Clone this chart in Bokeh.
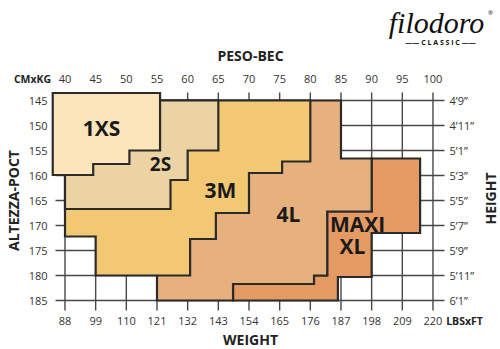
import math
from bokeh.plotting import figure
from bokeh.models import Range1d, ColumnDataSource
from bokeh.core.properties import value
from bokeh.embed import file_html
from bokeh.resources import INLINE

# ---------------- data ----------------
kg_ticks = [40, 45, 50, 55, 60, 65, 70, 75, 80, 85, 90, 95, 100]
kg_labels = [str(k) for k in kg_ticks]
lbs_labels = ["88", "99", "110", "121", "132", "143", "154", "165", "176", "187", "198", "209", "220"]
cm_ticks = [145, 150, 155, 160, 165, 170, 175, 180, 185]
cm_labels = [str(c) for c in cm_ticks]
ft_labels = ["4\u20199\u201d", "4\u201911\u201d", "5\u20191\u201d", "5\u20193\u201d", "5\u20195\u201d",
             "5\u20197\u201d", "5\u20199\u201d", "5\u201911\u201d", "6\u20191\u201d"]

sizes = ["MAXI XL", "4L", "3M", "2S", "1XS"]
# size regions (weight kg, height cm), drawn back to front
maxi_kg = [90, 97.9, 97.9, 90, 90, 84.5, 84.5, 67.4, 67.4, 80.6, 80.6, 82.75, 82.75, 90]
maxi_cm = [156.6, 156.6, 171.5, 171.5, 180.3, 180.3, 185, 185, 181.7, 181.7, 180, 180, 167.2, 167.2]
l4_kg = [55, 85, 85, 90, 90, 82.75, 82.75, 80.6, 80.6, 67.4, 67.4, 55]
l4_cm = [145, 145, 156.6, 156.6, 167.2, 167.2, 180, 180, 181.7, 181.7, 185, 185]
m3_kg = [40, 80, 80, 75.4, 75.4, 70, 70, 64.6, 64.6, 60.4, 60.4, 45, 45, 40]
m3_cm = [145, 145, 157.2, 157.2, 159.5, 159.5, 167.5, 167.5, 172.7, 172.7, 180, 180, 172.2, 172.2]
s2_kg = [40, 65, 65, 60, 60, 57.2, 57.2, 40]
s2_cm = [145, 145, 155, 155, 160.9, 160.9, 166.7, 166.7]
xs1_kg = [38, 55.5, 55.5, 50.5, 50.5, 44.6, 44.6, 38]
xs1_cm = [143.5, 143.5, 155, 155, 157.7, 157.7, 159.9, 159.9]

colors = ["#E59A64", "#E6B17C", "#F2C873", "#EBD3A4", "#FCE5B9"]

# ---------------- layout constants ----------------
W, H = 500, 349
PX_KG = 6.133            # pixels per kg
PX_CM = 5.0              # pixels per cm
X0_PX, Y0_PX = 64.5, 100.0   # canvas pixel of 40 kg / 145 cm

def kx(px):   # canvas x pixel -> kg
    return 40 + (px - X0_PX) / PX_KG

def cy(py):   # canvas y pixel -> cm
    return 145 + (py - Y0_PX) / PX_CM

p = figure(width=W, height=H, output_backend="svg", toolbar_location=None,
           x_range=Range1d(kx(0), kx(W)), y_range=Range1d(cy(H), cy(0)),
           x_axis_location=None, y_axis_location=None, title=None, min_border=0)
p.outline_line_color = None
p.grid.visible = False
p.background_fill_color = "white"
p.border_fill_color = "white"

FONT = value("Open Sans")

# grid lines (they run a little past the outer ticks, as in the original)
g_kg0, g_kg1 = kx(55), kx(444)
g_cm0, g_cm1 = cy(92), cy(310)
grid_col = "#474747"
p.segment(x0=kg_ticks, x1=kg_ticks, y0=[g_cm0] * len(kg_ticks), y1=[g_cm1] * len(kg_ticks),
          line_color=grid_col, line_width=1.4)
p.segment(x0=[g_kg0] * len(cm_ticks), x1=[g_kg1] * len(cm_ticks), y0=cm_ticks, y1=cm_ticks,
          line_color=grid_col, line_width=1.4)

# size regions
src = ColumnDataSource(dict(xs=[maxi_kg, l4_kg, m3_kg, s2_kg, xs1_kg],
                            ys=[maxi_cm, l4_cm, m3_cm, s2_cm, xs1_cm],
                            color=colors, name=sizes))
p.patches("xs", "ys", source=src, fill_color="color", line_color="#2b2b2b",
          line_width=2.2, line_join="miter")

# size names (anchor positions are layout, not data)
lab_txt = ["1XS", "2S", "3M", "4L", "MAXI", "XL"]
lab_px = [(101, 127), (160, 163), (220, 189), (288, 213), (357, 223), (352, 245)]
lab_sz = ["21px", "19px", "21px", "21px", "21px", "21px"]
tsrc = ColumnDataSource(dict(x=[kx(a) for a, b in lab_px], y=[cy(b) for a, b in lab_px],
                             t=lab_txt, s=lab_sz))
p.text(x="x", y="y", text="t", source=tsrc, text_font=FONT, text_font_style="bold",
       text_font_size="s", text_align="center", text_baseline="middle", text_color="#1a1a1a")

# tick labels
tick_col = "#333333"
tick_kw = dict(text_font=FONT, text_font_size="11px", text_color=tick_col, text_baseline="middle")
p.text(x=kg_ticks, y=[cy(78)] * len(kg_ticks), text=kg_labels, text_align="center", **tick_kw)
p.text(x=kg_ticks, y=[cy(320)] * len(kg_ticks), text=lbs_labels, text_align="center", **tick_kw)
p.text(x=[kx(47)] * len(cm_ticks), y=cm_ticks, text=cm_labels, text_align="right", **tick_kw)
p.text(x=[kx(449)] * len(cm_ticks), y=cm_ticks, text=ft_labels, text_align="left", **tick_kw)

# titles and captions
def caption(text, px, py, size, style="bold", angle=0.0, font=FONT, color="#222222", align="center"):
    p.text(x=[kx(px)], y=[cy(py)], text=[text], text_font=font, text_font_size=size,
           text_font_style=style, text_align=align, text_baseline="middle",
           text_color=color, angle=angle)

caption("PESO-BEC", 250, 55, "14px")
caption("WEIGHT", 250, 339, "14px")
caption("ALTEZZA-POCT", 13, 200, "14px", angle=math.pi / 2)
caption("HEIGHT", 490, 198, "14px", angle=math.pi / 2)
caption("CMxKG", 32, 78, "10.5px")
caption("LBSxFT", 464, 320, "10.5px")
caption("filodoro", 436, 22, "30px", style="italic", font=value("Liberation Serif"), color="#111111")
caption("\u00ae", 490, 12, "6px", style="normal", color="#111111")
caption("\u2014\u2014 C L A S S I C \u2014\u2014", 440, 42, "7px", color="#111111")

open("out.html", "w").write(file_html(p, INLINE))
